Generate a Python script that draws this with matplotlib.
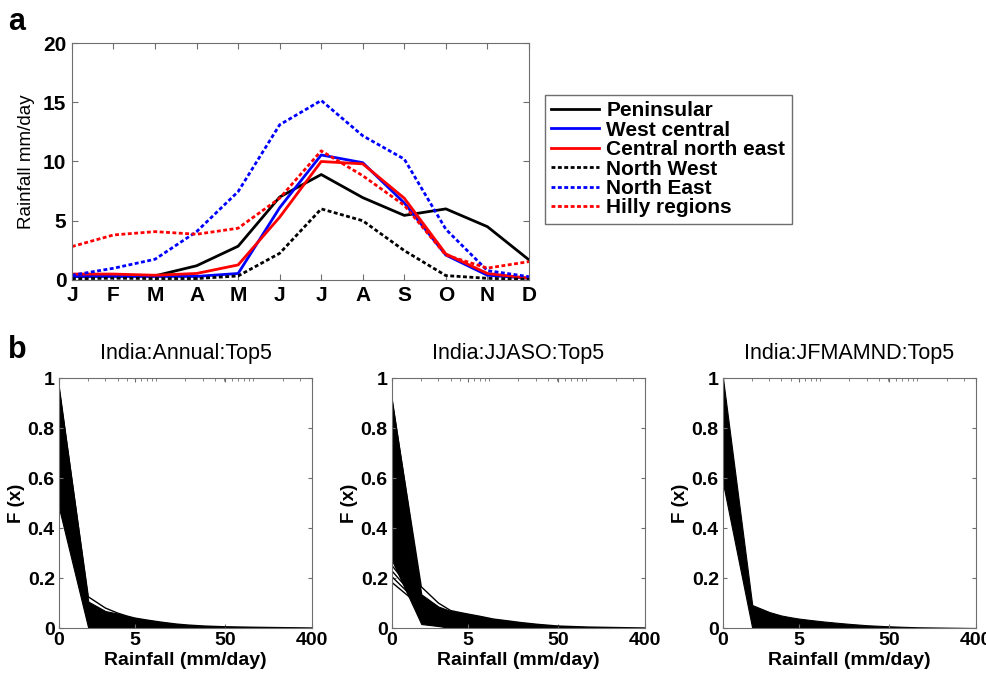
import numpy as np
import matplotlib
matplotlib.use("Agg")
import matplotlib.pyplot as plt
from matplotlib.ticker import FixedLocator, LogLocator, NullFormatter

plt.rcParams['font.family'] = ['Liberation Sans', 'DejaVu Sans']

# ---- panel a: monthly climatology (mm/day)
months = np.arange(1, 13)
month_labels = ['J', 'F', 'M', 'A', 'M', 'J', 'J', 'A', 'S', 'O', 'N', 'D']
peninsular = [0.3, 0.35, 0.35, 1.2, 2.85, 7.0, 8.9, 6.95, 5.45, 6.0, 4.5, 1.7]
west_central = [0.3, 0.3, 0.3, 0.3, 0.55, 6.1, 10.55, 9.9, 6.5, 2.1, 0.4, 0.15]
central_ne = [0.5, 0.5, 0.4, 0.55, 1.27, 5.3, 10.0, 9.8, 6.9, 2.2, 0.55, 0.15]
north_west = [0.1, 0.15, 0.12, 0.12, 0.34, 2.25, 6.0, 5.0, 2.48, 0.37, 0.14, 0.06]
north_east = [0.4, 0.99, 1.75, 4.08, 7.46, 13.1, 15.15, 12.17, 10.2, 4.28, 0.79, 0.28]
hilly = [2.82, 3.8, 4.08, 3.86, 4.37, 6.9, 10.9, 8.8, 6.3, 2.1, 1.0, 1.55]

# ---- panel b: frequency distributions, envelope of the ensemble of curves
rain_bins = np.array([0, 1, 2, 3, 4, 5, 7, 10, 15, 20, 30, 50, 100, 200, 400])
annual_upper = [0.96, 0.125, 0.08, 0.06, 0.048, 0.04, 0.032, 0.024, 0.016, 0.012, 0.008, 0.005, 0.003, 0.0015, 0]
annual_inner = [0.96, 0.106, 0.068, 0.058, 0.048, 0.04, 0.032, 0.024, 0.016, 0.012, 0.008, 0.005, 0.003, 0.0015, 0]
annual_lower = [0.48, 0, 0, 0, 0, 0, 0, 0, 0, 0, 0, 0, 0, 0, 0]

jjaso_upper = [0.91, 0.165, 0.1, 0.07, 0.062, 0.056, 0.047, 0.036, 0.028, 0.022, 0.015, 0.008, 0.004, 0.002, 0]
jjaso_inner = [0.91, 0.135, 0.086, 0.068, 0.062, 0.056, 0.047, 0.036, 0.028, 0.022, 0.015, 0.008, 0.004, 0.002, 0]
jjaso_lower = [0.27, 0.016, 0.008, 0, 0, 0, 0, 0, 0, 0, 0, 0, 0, 0, 0]
jjaso_low_start = [0.25, 0.228, 0.205, 0.182]
jjaso_low_end = [0.10, 0.095, 0.09, 0.085]

dry_upper = [1.0, 0.092, 0.064, 0.05, 0.043, 0.038, 0.032, 0.026, 0.02, 0.016, 0.011, 0.007, 0.003, 0.0015, 0]
dry_lower = [0.58, 0, 0, 0, 0, 0, 0, 0, 0, 0, 0, 0, 0, 0, 0]

b_titles = ['India:Annual:Top5', 'India:JJASO:Top5', 'India:JFMAMND:Top5']
b_xticks = [0, 5, 50, 400]

frame = '#6e6e6e'

fig = plt.figure(figsize=(9.87, 6.74), dpi=100)

# ---------------- panel a
ax = fig.add_axes([0.0729, 0.5846, 0.463, 0.3516])
dot = (0, (1.4, 0.9))
ax.plot(months, peninsular, color='black', lw=2, label='Peninsular')
ax.plot(months, west_central, color='blue', lw=2, label='West central')
ax.plot(months, central_ne, color='red', lw=2, label='Central north east')
ax.plot(months, north_west, color='black', lw=2, ls=dot, label='North West')
ax.plot(months, north_east, color='blue', lw=2, ls=dot, label='North East')
ax.plot(months, hilly, color='red', lw=2, ls=dot, label='Hilly regions')
ax.set_xlim(1, 12)
ax.set_ylim(0, 20)
ax.set_xticks(months)
ax.set_xticklabels(month_labels)
ax.set_yticks([0, 5, 10, 15, 20])
ax.tick_params(direction='in', top=True, right=True, length=4, color=frame,
               labelsize=15, pad=4)
for lab in ax.get_xticklabels() + ax.get_yticklabels():
    lab.set_fontweight('bold')
for s in ax.spines.values():
    s.set_color(frame)
ax.set_ylabel('Rainfall mm/day', fontsize=13.5, labelpad=6)

leg = fig.legend(*ax.get_legend_handles_labels(), loc='upper left',
                 bbox_to_anchor=(0.552, 0.859), bbox_transform=fig.transFigure,
                 borderaxespad=0, fancybox=False, framealpha=1, edgecolor=frame,
                 prop={'weight': 'bold', 'size': 15}, handlelength=2.3,
                 handletextpad=0.35, labelspacing=0.02, borderpad=0.3)
leg.get_frame().set_linewidth(1.0)

fig.text(0.008, 0.968, 'a', fontsize=22, fontweight='bold', va='center')
fig.text(0.008, 0.481, 'b', fontsize=22, fontweight='bold', va='center')

# ---------------- panel b
lefts = [0.0598, 0.3972, 0.7325]
xb = rain_bins + 1
for i, left in enumerate(lefts):
    axb = fig.add_axes([left, 0.0682, 0.2563, 0.3709])
    if i == 0:
        axb.fill_between(xb, annual_lower, annual_inner, color='black', lw=0.8)
        axb.plot(xb, annual_upper, color='black', lw=1.0)
    elif i == 1:
        axb.fill_between(xb, jjaso_lower, jjaso_inner, color='black', lw=0.8)
        axb.plot(xb, jjaso_upper, color='black', lw=1.0)
        for s0, s1 in zip(jjaso_low_start, jjaso_low_end):
            axb.plot(xb[:2], [s0, s1], color='black', lw=1.0)
    else:
        axb.fill_between(xb, dry_lower, dry_upper, color='black', lw=0.8)
    axb.set_xscale('log')
    axb.set_xlim(1, 401)
    axb.set_ylim(0, 1)
    axb.xaxis.set_major_locator(FixedLocator([v + 1 for v in b_xticks]))
    axb.set_xticklabels([str(v) for v in b_xticks])
    axb.xaxis.set_minor_locator(LogLocator(base=10, subs=np.arange(1, 10), numticks=20))
    axb.xaxis.set_minor_formatter(NullFormatter())
    axb.set_yticks([0, 0.2, 0.4, 0.6, 0.8, 1])
    axb.set_yticklabels(['0', '0.2', '0.4', '0.6', '0.8', '1'])
    axb.tick_params(which='major', direction='in', top=True, right=True, length=3,
                    color=frame, labelsize=14, pad=3)
    axb.tick_params(which='minor', direction='in', top=True, bottom=False, length=2,
                    color=frame)
    for lab in axb.get_xticklabels() + axb.get_yticklabels():
        lab.set_fontweight('bold')
    for s in axb.spines.values():
        s.set_color(frame)
    axb.set_title(b_titles[i], fontsize=15.5, pad=14)
    axb.set_xlabel('Rainfall (mm/day)', fontsize=14, fontweight='bold', labelpad=2)
    axb.set_ylabel('F (x)', fontsize=13.5, fontweight='bold', labelpad=2)

fig.savefig('out.png', dpi=100)
